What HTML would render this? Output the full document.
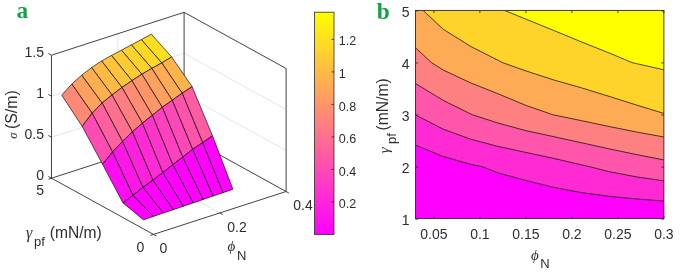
<!DOCTYPE html>
<html><head><meta charset="utf-8"><title>figure</title>
<style>html,body{margin:0;padding:0;background:#fff}svg{display:block}</style></head>
<body>
<svg width="685" height="272" viewBox="0 0 685 272">
<rect width="685" height="272" fill="#fff"/>
<g stroke-linecap="butt">
<line x1="219.80" y1="212.95" x2="117.80" y2="156.75" stroke="#e2e2e2" stroke-width="0.9"/>
<line x1="117.80" y1="156.75" x2="117.80" y2="33.75" stroke="#e2e2e2" stroke-width="0.9"/>
<line x1="51.50" y1="137.20" x2="184.10" y2="94.30" stroke="#e2e2e2" stroke-width="0.9"/>
<line x1="184.10" y1="94.30" x2="286.10" y2="150.50" stroke="#e2e2e2" stroke-width="0.9"/>
<line x1="51.50" y1="96.20" x2="184.10" y2="53.30" stroke="#e2e2e2" stroke-width="0.9"/>
<line x1="184.10" y1="53.30" x2="286.10" y2="109.50" stroke="#e2e2e2" stroke-width="0.9"/>
<line x1="51.50" y1="178.20" x2="184.10" y2="135.30" stroke="#2e2e2e" stroke-width="0.9"/>
<line x1="286.10" y1="191.50" x2="184.10" y2="135.30" stroke="#2e2e2e" stroke-width="0.9"/>
<line x1="184.10" y1="135.30" x2="184.10" y2="12.30" stroke="#2e2e2e" stroke-width="0.9"/>
<line x1="51.50" y1="55.20" x2="184.10" y2="12.30" stroke="#2e2e2e" stroke-width="0.9"/>
<line x1="184.10" y1="12.30" x2="286.10" y2="68.50" stroke="#2e2e2e" stroke-width="0.9"/>
</g>
<g stroke="#000" stroke-width="0.65" stroke-linejoin="round">
<polygon points="161.75,62.90 171.70,57.00 151.30,34.20 141.35,39.60" fill="rgb(255,222,33)"/>
<polygon points="151.81,68.40 161.75,62.90 141.35,39.60 131.41,44.80" fill="rgb(255,217,38)"/>
<polygon points="141.86,74.20 151.81,68.40 131.41,44.80 121.46,50.20" fill="rgb(255,211,44)"/>
<polygon points="131.92,80.70 141.86,74.20 121.46,50.20 111.52,55.40" fill="rgb(255,203,52)"/>
<polygon points="121.97,87.40 131.92,80.70 111.52,55.40 101.57,60.90" fill="rgb(255,196,59)"/>
<polygon points="112.03,95.00 121.97,87.40 101.57,60.90 91.63,67.60" fill="rgb(255,186,69)"/>
<polygon points="102.08,103.00 112.03,95.00 91.63,67.60 81.69,75.20" fill="rgb(255,175,80)"/>
<polygon points="92.14,113.20 102.08,103.00 81.69,75.20 71.74,84.00" fill="rgb(255,159,96)"/>
<polygon points="82.19,126.40 92.14,113.20 71.74,84.00 61.79,95.20" fill="rgb(255,136,119)"/>
<polygon points="182.16,93.20 192.10,86.70 171.70,57.00 161.75,62.90" fill="rgb(255,179,76)"/>
<polygon points="172.21,100.30 182.16,93.20 161.75,62.90 151.81,68.40" fill="rgb(255,170,85)"/>
<polygon points="162.26,107.30 172.21,100.30 151.81,68.40 141.86,74.20" fill="rgb(255,161,94)"/>
<polygon points="152.32,115.30 162.26,107.30 141.86,74.20 131.92,80.70" fill="rgb(255,150,105)"/>
<polygon points="142.38,123.20 152.32,115.30 131.92,80.70 121.97,87.40" fill="rgb(255,140,115)"/>
<polygon points="132.43,131.80 142.38,123.20 121.97,87.40 112.03,95.00" fill="rgb(255,127,128)"/>
<polygon points="122.49,141.40 132.43,131.80 112.03,95.00 102.08,103.00" fill="rgb(255,113,142)"/>
<polygon points="112.54,152.00 122.49,141.40 102.08,103.00 92.14,113.20" fill="rgb(255,96,159)"/>
<polygon points="102.59,164.30 112.54,152.00 92.14,113.20 82.19,126.40" fill="rgb(255,75,180)"/>
<polygon points="202.55,142.60 212.50,135.90 192.10,86.70 182.16,93.20" fill="rgb(255,92,163)"/>
<polygon points="192.61,149.40 202.55,142.60 182.16,93.20 172.21,100.30" fill="rgb(255,84,171)"/>
<polygon points="182.66,157.10 192.61,149.40 172.21,100.30 162.26,107.30" fill="rgb(255,73,182)"/>
<polygon points="172.72,164.70 182.66,157.10 162.26,107.30 152.32,115.30" fill="rgb(255,64,191)"/>
<polygon points="162.77,172.60 172.72,164.70 152.32,115.30 142.38,123.20" fill="rgb(255,53,202)"/>
<polygon points="152.83,180.25 162.77,172.60 142.38,123.20 132.43,131.80" fill="rgb(255,43,212)"/>
<polygon points="142.88,187.40 152.83,180.25 132.43,131.80 122.49,141.40" fill="rgb(255,34,221)"/>
<polygon points="132.94,195.40 142.88,187.40 122.49,141.40 112.54,152.00" fill="rgb(255,23,232)"/>
<polygon points="122.99,202.90 132.94,195.40 112.54,152.00 102.59,164.30" fill="rgb(255,13,242)"/>
<polygon points="222.95,192.70 232.90,189.20 212.50,135.90 202.55,142.60" fill="rgb(255,3,252)"/>
<polygon points="213.01,196.10 222.95,192.70 202.55,142.60 192.61,149.40" fill="rgb(255,3,252)"/>
<polygon points="203.06,199.50 213.01,196.10 192.61,149.40 182.66,157.10" fill="rgb(255,3,252)"/>
<polygon points="193.12,202.90 203.06,199.50 182.66,157.10 172.72,164.70" fill="rgb(255,2,253)"/>
<polygon points="183.17,206.30 193.12,202.90 172.72,164.70 162.77,172.60" fill="rgb(255,2,253)"/>
<polygon points="173.23,209.70 183.17,206.30 162.77,172.60 152.83,180.25" fill="rgb(255,1,254)"/>
<polygon points="163.28,213.00 173.23,209.70 152.83,180.25 142.88,187.40" fill="rgb(255,1,254)"/>
<polygon points="153.34,216.40 163.28,213.00 142.88,187.40 132.94,195.40" fill="rgb(255,1,254)"/>
<polygon points="143.39,219.80 153.34,216.40 132.94,195.40 122.99,202.90" fill="rgb(255,0,255)"/>
</g>
<g stroke-linecap="butt">
<line x1="153.50" y1="234.40" x2="51.50" y2="178.20" stroke="#2e2e2e" stroke-width="0.9"/>
<line x1="153.50" y1="234.40" x2="286.10" y2="191.50" stroke="#2e2e2e" stroke-width="0.9"/>
<line x1="51.50" y1="178.20" x2="51.50" y2="55.20" stroke="#2e2e2e" stroke-width="0.9"/>
<line x1="286.10" y1="191.50" x2="286.10" y2="68.50" stroke="#2e2e2e" stroke-width="0.9"/>
<line x1="153.50" y1="234.40" x2="156.30" y2="235.94" stroke="#2e2e2e" stroke-width="0.9"/>
<line x1="219.80" y1="212.95" x2="222.60" y2="214.49" stroke="#2e2e2e" stroke-width="0.9"/>
<line x1="286.10" y1="191.50" x2="288.90" y2="193.04" stroke="#2e2e2e" stroke-width="0.9"/>
<line x1="153.50" y1="234.40" x2="150.46" y2="235.39" stroke="#2e2e2e" stroke-width="0.9"/>
<line x1="51.50" y1="178.20" x2="48.46" y2="179.19" stroke="#2e2e2e" stroke-width="0.9"/>
<line x1="51.50" y1="178.20" x2="48.35" y2="176.46" stroke="#2e2e2e" stroke-width="0.9"/>
<line x1="51.50" y1="137.20" x2="48.35" y2="135.46" stroke="#2e2e2e" stroke-width="0.9"/>
<line x1="51.50" y1="96.20" x2="48.35" y2="94.46" stroke="#2e2e2e" stroke-width="0.9"/>
<line x1="51.50" y1="55.20" x2="48.35" y2="53.46" stroke="#2e2e2e" stroke-width="0.9"/>
</g>
<text x="44.00" y="180.40" font-size="14" text-anchor="end" fill="#2e2e2e" font-family="Liberation Sans, Arial, sans-serif" >0</text>
<text x="44.00" y="139.40" font-size="14" text-anchor="end" fill="#2e2e2e" font-family="Liberation Sans, Arial, sans-serif" >0.5</text>
<text x="44.00" y="98.40" font-size="14" text-anchor="end" fill="#2e2e2e" font-family="Liberation Sans, Arial, sans-serif" >1</text>
<text x="44.00" y="57.40" font-size="14" text-anchor="end" fill="#2e2e2e" font-family="Liberation Sans, Arial, sans-serif" >1.5</text>
<text x="44.00" y="195.20" font-size="14" text-anchor="end" fill="#2e2e2e" font-family="Liberation Sans, Arial, sans-serif" >5</text>
<text x="140.50" y="251.50" font-size="14" text-anchor="middle" fill="#2e2e2e" font-family="Liberation Sans, Arial, sans-serif" >0</text>
<text x="163.50" y="253.20" font-size="14" text-anchor="middle" fill="#2e2e2e" font-family="Liberation Sans, Arial, sans-serif" >0</text>
<text x="237.00" y="231.60" font-size="14" text-anchor="middle" fill="#2e2e2e" font-family="Liberation Sans, Arial, sans-serif" >0.2</text>
<text x="303.00" y="209.60" font-size="14" text-anchor="middle" fill="#2e2e2e" font-family="Liberation Sans, Arial, sans-serif" >0.4</text>
<text x="26.0" y="238.2" font-size="15.6" fill="#2e2e2e"><tspan font-family="Liberation Serif, DejaVu Serif, serif" font-style="italic" font-size="16">γ</tspan><tspan font-family="Liberation Sans, Arial, sans-serif" font-size="13" dy="8.2" dx="1.6">pf</tspan><tspan font-family="Liberation Sans, Arial, sans-serif" dy="-8.2" dx="5.0">(mN/m)</tspan></text>
<text x="227.6" y="251.2" font-size="15.4" fill="#2e2e2e"><tspan font-family="Liberation Serif, DejaVu Serif, serif" font-style="italic" font-size="15">ϕ</tspan><tspan font-family="Liberation Sans, Arial, sans-serif" font-size="13" dy="8.3" dx="1.6">N</tspan></text>
<g transform="translate(16.6,138.8) rotate(-90)"><text x="0" y="0" font-size="15.9" fill="#2e2e2e"><tspan font-family="Liberation Serif, DejaVu Serif, serif" font-style="italic" font-size="12.5">σ</tspan><tspan font-family="Liberation Sans, Arial, sans-serif" dx="3.6">(S/m)</tspan></text></g>
<defs><linearGradient id="cb" x1="0" y1="1" x2="0" y2="0"><stop offset="0" stop-color="rgb(255,0,255)"/><stop offset="1" stop-color="rgb(255,255,0)"/></linearGradient></defs>
<rect x="314.40" y="12.20" width="19.60" height="222.30" fill="url(#cb)" stroke="#2e2e2e" stroke-width="0.8"/>
<line x1="334.00" y1="201.98" x2="331.60" y2="201.98" stroke="#2e2e2e" stroke-width="0.9"/>
<text x="338.80" y="208.08" font-size="12.5" text-anchor="start" fill="#2e2e2e" font-family="Liberation Sans, Arial, sans-serif" >0.2</text>
<line x1="334.00" y1="169.45" x2="331.60" y2="169.45" stroke="#2e2e2e" stroke-width="0.9"/>
<text x="338.80" y="175.55" font-size="12.5" text-anchor="start" fill="#2e2e2e" font-family="Liberation Sans, Arial, sans-serif" >0.4</text>
<line x1="334.00" y1="136.93" x2="331.60" y2="136.93" stroke="#2e2e2e" stroke-width="0.9"/>
<text x="338.80" y="143.03" font-size="12.5" text-anchor="start" fill="#2e2e2e" font-family="Liberation Sans, Arial, sans-serif" >0.6</text>
<line x1="334.00" y1="104.40" x2="331.60" y2="104.40" stroke="#2e2e2e" stroke-width="0.9"/>
<text x="338.80" y="110.50" font-size="12.5" text-anchor="start" fill="#2e2e2e" font-family="Liberation Sans, Arial, sans-serif" >0.8</text>
<line x1="334.00" y1="71.88" x2="331.60" y2="71.88" stroke="#2e2e2e" stroke-width="0.9"/>
<text x="338.80" y="77.98" font-size="12.5" text-anchor="start" fill="#2e2e2e" font-family="Liberation Sans, Arial, sans-serif" >1</text>
<line x1="334.00" y1="39.36" x2="331.60" y2="39.36" stroke="#2e2e2e" stroke-width="0.9"/>
<text x="338.80" y="45.46" font-size="12.5" text-anchor="start" fill="#2e2e2e" font-family="Liberation Sans, Arial, sans-serif" >1.2</text>
<text x="16.4" y="17.5" font-size="23.3" fill="#17a048" font-family="Liberation Serif, Times New Roman, serif" font-weight="bold">a</text>
<text x="376.8" y="18.7" font-size="23.3" fill="#17a048" font-family="Liberation Serif, Times New Roman, serif" font-weight="bold">b</text>
<defs><clipPath id="cp"><rect x="415.5" y="10.4" width="248.4" height="208.2"/></clipPath></defs>
<g clip-path="url(#cp)">
<g stroke="none">
<rect x="415.50" y="10.00" width="249.00" height="208.50" fill="rgb(255,0,255)"/>
<path d="M415.50 219.00 L443.17 219.00 L470.83 219.00 L498.50 219.00 L526.17 219.00 L553.83 219.00 L581.50 219.00 L609.17 219.00 L636.83 219.00 L664.50 219.00 L664.50 201.10 L636.83 198.99 L609.17 196.33 L581.50 192.63 L553.83 187.38 L526.17 180.56 L498.50 173.05 L482.81 166.88 L470.83 164.39 L443.17 156.51 L415.50 145.15 L415.50 166.88 Z" fill="rgb(255,0,255)" stroke="rgb(255,0,255)" stroke-width="0.6"/>
<path d="M482.81 166.88 L498.50 173.05 L526.17 180.56 L553.83 187.38 L581.50 192.63 L609.17 196.33 L636.83 198.99 L664.50 201.10 L664.50 181.02 L636.83 176.95 L609.17 171.67 L590.30 166.88 L581.50 164.87 L553.83 158.41 L526.17 152.48 L498.50 146.56 L470.83 139.28 L443.17 129.16 L415.50 114.94 L415.50 145.15 L443.17 156.51 L470.83 164.39 Z" fill="rgb(255,42,212)" stroke="rgb(255,42,212)" stroke-width="0.6"/>
<path d="M590.30 166.88 L609.17 171.67 L636.83 176.95 L664.50 181.02 L664.50 166.88 L664.50 160.08 L636.83 154.64 L609.17 148.87 L581.50 142.76 L553.83 136.68 L526.17 130.69 L498.50 123.23 L472.48 114.75 L470.83 114.04 L443.17 100.39 L415.50 83.53 L415.50 114.75 L415.50 114.94 L443.17 129.16 L470.83 139.28 L498.50 146.56 L526.17 152.48 L553.83 158.41 L581.50 164.87 Z" fill="rgb(255,85,170)" stroke="rgb(255,85,170)" stroke-width="0.6"/>
<path d="M472.48 114.75 L498.50 123.23 L526.17 130.69 L553.83 136.68 L581.50 142.76 L609.17 148.87 L636.83 154.64 L664.50 160.08 L664.50 137.12 L636.83 132.08 L609.17 126.52 L581.50 120.66 L553.83 114.95 L552.90 114.75 L526.17 105.50 L498.50 93.96 L470.83 82.95 L443.17 70.04 L431.49 62.62 L415.50 47.79 L415.50 62.62 L415.50 83.53 L443.17 100.39 L470.83 114.04 Z" fill="rgb(255,128,128)" stroke="rgb(255,128,128)" stroke-width="0.6"/>
<path d="M552.90 114.75 L553.83 114.95 L581.50 120.66 L609.17 126.52 L636.83 132.08 L664.50 137.12 L664.50 114.75 L664.50 113.63 L636.83 105.15 L609.17 96.39 L581.50 87.86 L553.83 79.98 L526.17 71.03 L502.44 62.62 L498.50 60.51 L470.83 46.54 L443.17 29.20 L423.08 10.50 L415.50 10.50 L415.50 47.79 L431.49 62.62 L443.17 70.04 L470.83 82.95 L498.50 93.96 L526.17 105.50 Z" fill="rgb(255,170,85)" stroke="rgb(255,170,85)" stroke-width="0.6"/>
<path d="M502.44 62.62 L526.17 71.03 L553.83 79.98 L581.50 87.86 L609.17 96.39 L636.83 105.15 L664.50 113.63 L664.50 69.96 L636.83 63.73 L632.08 62.62 L609.17 52.99 L581.50 41.94 L553.83 30.50 L526.17 19.24 L504.72 10.50 L498.50 10.50 L470.83 10.50 L443.17 10.50 L423.08 10.50 L443.17 29.20 L470.83 46.54 L498.50 60.51 Z" fill="rgb(255,212,42)" stroke="rgb(255,212,42)" stroke-width="0.6"/>
<path d="M632.08 62.62 L636.83 63.73 L664.50 69.96 L664.50 62.62 L664.50 10.50 L636.83 10.50 L609.17 10.50 L581.50 10.50 L553.83 10.50 L526.17 10.50 L504.72 10.50 L526.17 19.24 L553.83 30.50 L581.50 41.94 L609.17 52.99 Z" fill="rgb(255,255,0)" stroke="rgb(255,255,0)" stroke-width="0.6"/>
</g>
<g fill="none" stroke="#000" stroke-width="0.7" stroke-linejoin="round">
<polyline points="415.50,145.15 443.17,156.51 470.83,164.39 482.81,166.88 498.50,173.05 526.17,180.56 553.83,187.38 581.50,192.63 609.17,196.33 636.83,198.99 664.50,201.10"/>
<polyline points="415.50,114.94 443.17,129.16 470.83,139.28 498.50,146.56 526.17,152.48 553.83,158.41 581.50,164.87 590.30,166.88 609.17,171.67 636.83,176.95 664.50,181.02"/>
<polyline points="415.50,83.53 443.17,100.39 470.83,114.04 472.48,114.75 498.50,123.23 526.17,130.69 553.83,136.68 581.50,142.76 609.17,148.87 636.83,154.64 664.50,160.08"/>
<polyline points="415.50,47.79 431.49,62.62 443.17,70.04 470.83,82.95 498.50,93.96 526.17,105.50 552.90,114.75 553.83,114.95 581.50,120.66 609.17,126.52 636.83,132.08 664.50,137.12"/>
<polyline points="423.08,10.50 443.17,29.20 470.83,46.54 498.50,60.51 502.44,62.62 526.17,71.03 553.83,79.98 581.50,87.86 609.17,96.39 636.83,105.15 664.50,113.63"/>
<polyline points="504.72,10.50 526.17,19.24 553.83,30.50 581.50,41.94 609.17,52.99 632.08,62.62 636.83,63.73 664.50,69.96"/>
</g>
</g>
<rect x="415.50" y="10.40" width="248.40" height="208.20" fill="none" stroke="#2e2e2e" stroke-width="0.9"/>
<line x1="433.90" y1="218.60" x2="433.90" y2="216.00" stroke="#2e2e2e" stroke-width="0.9"/>
<line x1="433.90" y1="10.40" x2="433.90" y2="13.00" stroke="#2e2e2e" stroke-width="0.9"/>
<text x="433.90" y="238.90" font-size="14" text-anchor="middle" fill="#2e2e2e" font-family="Liberation Sans, Arial, sans-serif" >0.05</text>
<line x1="479.90" y1="218.60" x2="479.90" y2="216.00" stroke="#2e2e2e" stroke-width="0.9"/>
<line x1="479.90" y1="10.40" x2="479.90" y2="13.00" stroke="#2e2e2e" stroke-width="0.9"/>
<text x="479.90" y="238.90" font-size="14" text-anchor="middle" fill="#2e2e2e" font-family="Liberation Sans, Arial, sans-serif" >0.1</text>
<line x1="525.90" y1="218.60" x2="525.90" y2="216.00" stroke="#2e2e2e" stroke-width="0.9"/>
<line x1="525.90" y1="10.40" x2="525.90" y2="13.00" stroke="#2e2e2e" stroke-width="0.9"/>
<text x="525.90" y="238.90" font-size="14" text-anchor="middle" fill="#2e2e2e" font-family="Liberation Sans, Arial, sans-serif" >0.15</text>
<line x1="571.90" y1="218.60" x2="571.90" y2="216.00" stroke="#2e2e2e" stroke-width="0.9"/>
<line x1="571.90" y1="10.40" x2="571.90" y2="13.00" stroke="#2e2e2e" stroke-width="0.9"/>
<text x="571.90" y="238.90" font-size="14" text-anchor="middle" fill="#2e2e2e" font-family="Liberation Sans, Arial, sans-serif" >0.2</text>
<line x1="617.90" y1="218.60" x2="617.90" y2="216.00" stroke="#2e2e2e" stroke-width="0.9"/>
<line x1="617.90" y1="10.40" x2="617.90" y2="13.00" stroke="#2e2e2e" stroke-width="0.9"/>
<text x="617.90" y="238.90" font-size="14" text-anchor="middle" fill="#2e2e2e" font-family="Liberation Sans, Arial, sans-serif" >0.25</text>
<line x1="663.90" y1="218.60" x2="663.90" y2="216.00" stroke="#2e2e2e" stroke-width="0.9"/>
<line x1="663.90" y1="10.40" x2="663.90" y2="13.00" stroke="#2e2e2e" stroke-width="0.9"/>
<text x="663.90" y="238.90" font-size="14" text-anchor="middle" fill="#2e2e2e" font-family="Liberation Sans, Arial, sans-serif" >0.3</text>
<line x1="415.50" y1="219.10" x2="418.10" y2="219.10" stroke="#2e2e2e" stroke-width="0.9"/>
<line x1="663.90" y1="219.10" x2="661.30" y2="219.10" stroke="#2e2e2e" stroke-width="0.9"/>
<text x="409.60" y="224.90" font-size="14" text-anchor="end" fill="#2e2e2e" font-family="Liberation Sans, Arial, sans-serif" >1</text>
<line x1="415.50" y1="167.05" x2="418.10" y2="167.05" stroke="#2e2e2e" stroke-width="0.9"/>
<line x1="663.90" y1="167.05" x2="661.30" y2="167.05" stroke="#2e2e2e" stroke-width="0.9"/>
<text x="409.60" y="172.85" font-size="14" text-anchor="end" fill="#2e2e2e" font-family="Liberation Sans, Arial, sans-serif" >2</text>
<line x1="415.50" y1="115.00" x2="418.10" y2="115.00" stroke="#2e2e2e" stroke-width="0.9"/>
<line x1="663.90" y1="115.00" x2="661.30" y2="115.00" stroke="#2e2e2e" stroke-width="0.9"/>
<text x="409.60" y="120.80" font-size="14" text-anchor="end" fill="#2e2e2e" font-family="Liberation Sans, Arial, sans-serif" >3</text>
<line x1="415.50" y1="62.95" x2="418.10" y2="62.95" stroke="#2e2e2e" stroke-width="0.9"/>
<line x1="663.90" y1="62.95" x2="661.30" y2="62.95" stroke="#2e2e2e" stroke-width="0.9"/>
<text x="409.60" y="68.75" font-size="14" text-anchor="end" fill="#2e2e2e" font-family="Liberation Sans, Arial, sans-serif" >4</text>
<line x1="415.50" y1="10.90" x2="418.10" y2="10.90" stroke="#2e2e2e" stroke-width="0.9"/>
<line x1="663.90" y1="10.90" x2="661.30" y2="10.90" stroke="#2e2e2e" stroke-width="0.9"/>
<text x="409.60" y="16.70" font-size="14" text-anchor="end" fill="#2e2e2e" font-family="Liberation Sans, Arial, sans-serif" >5</text>
<text x="531.0" y="259.6" font-size="15.4" fill="#2e2e2e"><tspan font-family="Liberation Serif, DejaVu Serif, serif" font-style="italic" font-size="15">ϕ</tspan><tspan font-family="Liberation Sans, Arial, sans-serif" font-size="13" dy="8.2" dx="1.6">N</tspan></text>
<g transform="translate(388.3,151.7) rotate(-90)"><text x="0" y="0" font-size="15.7" fill="#2e2e2e"><tspan font-family="Liberation Serif, DejaVu Serif, serif" font-style="italic" font-size="15" dx="-1.6" dy="0.8">γ</tspan><tspan font-family="Liberation Sans, Arial, sans-serif" font-size="13" dy="6.5" dx="3.3">pf</tspan><tspan font-family="Liberation Sans, Arial, sans-serif" dy="-7.3" dx="2.8">(mN/m)</tspan></text></g>
</svg>
</body></html>
